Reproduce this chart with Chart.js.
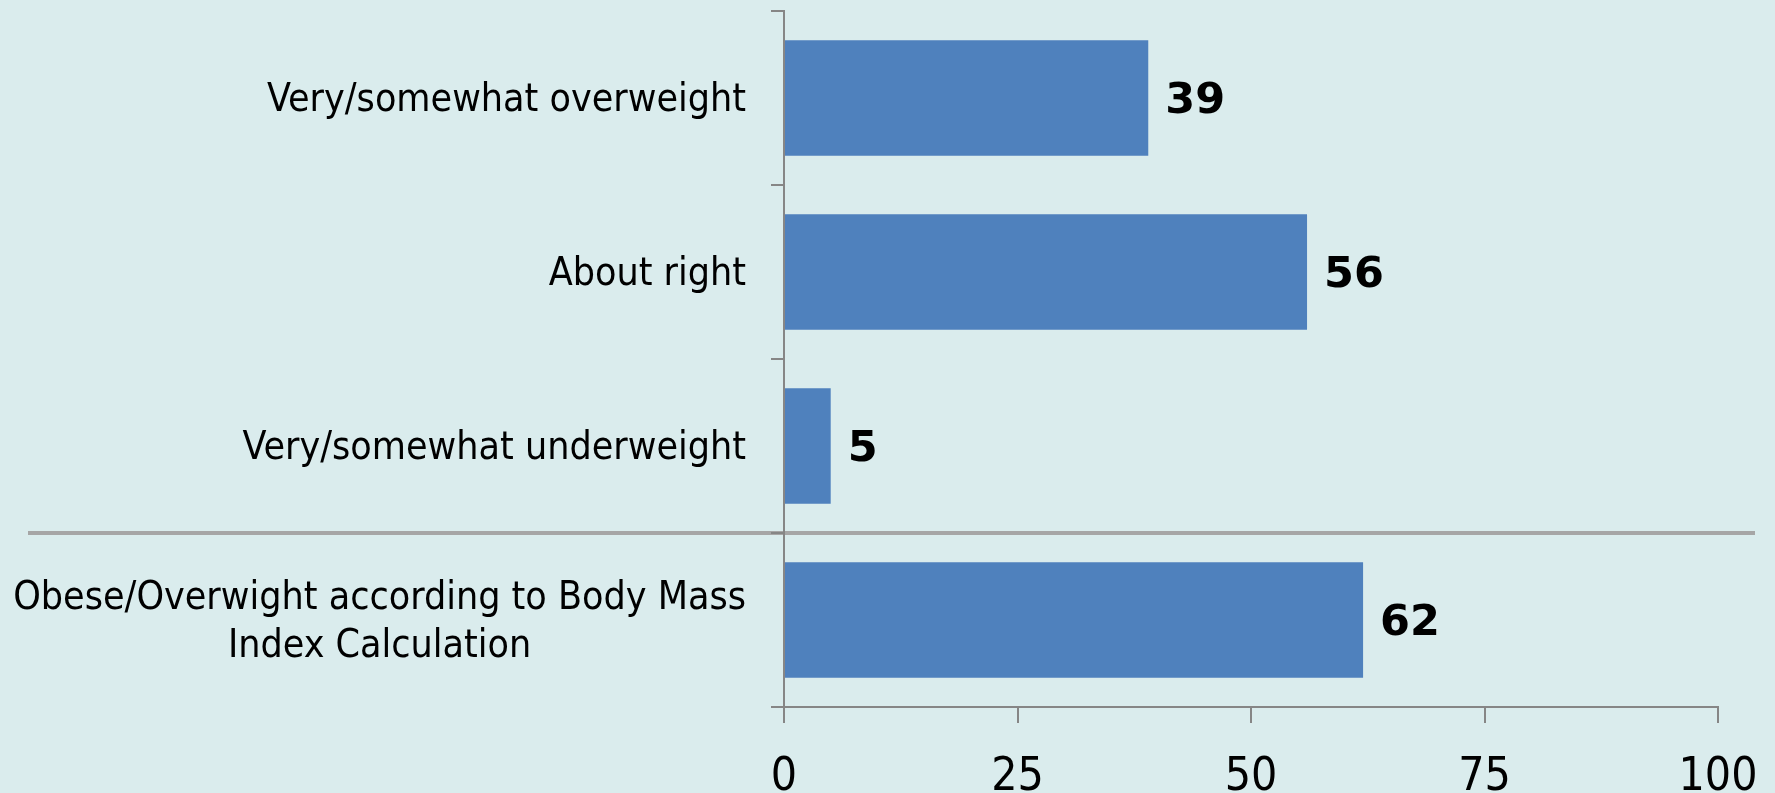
<!DOCTYPE html>
<html>
<head>
<meta charset="utf-8">
<script src="https://cdn.jsdelivr.net/npm/chart.js@4.4.1/dist/chart.umd.min.js"></script>
<style>
  html, body { margin: 0; padding: 0; background: #daeced; }
  #wrap { width: 1775px; height: 793px; position: relative; }
</style>
</head>
<body>
<div id="wrap"><canvas id="bmiChart"></canvas></div>
<script>
const categories = [
  "Very/somewhat overweight",
  "About right",
  "Very/somewhat underweight",
  ["Obese/Overwight according to Body Mass", "Index Calculation"]
];
const values = [39, 56, 5, 62];
const xTicks = [0, 25, 50, 75, 100];

const FONT = "'DejaVu Sans Condensed', 'DejaVu Sans', sans-serif";
const AXIS_GRAY = "#868686";

// etiquetas de categoria (centradas si tienen dos lineas)
const categoryLabels = {
  id: "categoryLabels",
  afterDraw(chart) {
    const ctx = chart.ctx;
    const y = chart.scales.y;
    const right = chart.chartArea.left - 38;
    ctx.save();
    ctx.font = "39px " + FONT;
    ctx.fillStyle = "#000";
    ctx.textBaseline = "middle";
    categories.forEach((lab, i) => {
      const lines = Array.isArray(lab) ? lab : [lab];
      const cy = y.getPixelForValue(i) + 3;
      const lh = 48;
      const maxW = Math.max(...lines.map(l => ctx.measureText(l).width));
      lines.forEach((l, k) => {
        const ly = cy + (k - (lines.length - 1) / 2) * lh;
        if (lines.length > 1) {
          ctx.textAlign = "center";
          ctx.fillText(l, right - maxW / 2, ly);
        } else {
          ctx.textAlign = "right";
          ctx.fillText(l, right, ly);
        }
      });
    });
    ctx.restore();
  }
};

// linea separadora entre la pregunta y el calculo IMC
const separator = {
  id: "separator",
  beforeDraw(chart) {
    const ctx = chart.ctx;
    const y = chart.scales.y;
    const sy = (y.getPixelForValue(2) + y.getPixelForValue(3)) / 2;
    ctx.save();
    ctx.strokeStyle = "#a6a6a6";
    ctx.lineWidth = 4;
    ctx.beginPath();
    ctx.moveTo(28, sy);
    ctx.lineTo(1755, sy);
    ctx.stroke();
    ctx.restore();
  }
};

const valueLabels = {
  id: "valueLabels",
  afterDatasetsDraw(chart) {
    const ctx = chart.ctx;
    const meta = chart.getDatasetMeta(0);
    ctx.save();
    ctx.font = "bold 43px 'DejaVu Sans', sans-serif";
    ctx.fillStyle = "#000";
    ctx.textAlign = "left";
    ctx.textBaseline = "middle";
    meta.data.forEach((bar, i) => {
      ctx.fillText(String(values[i]), bar.x + 17, bar.y + 4);
    });
    ctx.restore();
  }
};

new Chart(document.getElementById("bmiChart"), {
  type: "bar",
  data: {
    labels: categories.map(c => Array.isArray(c) ? c.join(" ") : c),
    datasets: [{
      data: values,
      backgroundColor: "#4f81bd",
      borderWidth: 0,
      barPercentage: 0.665,
      categoryPercentage: 1
    }]
  },
  options: {
    indexAxis: "y",
    responsive: true,
    maintainAspectRatio: false,
    animation: false,
    layout: { padding: { top: 11, right: 57, bottom: 0, left: 0 } },
    plugins: {
      legend: { display: false },
      tooltip: { enabled: false }
    },
    scales: {
      x: {
        min: 0,
        max: 100,
        afterBuildTicks(scale) {
          scale.ticks = xTicks.map(v => ({ value: v }));
        },
        afterFit(scale) {
          scale.height = 86;
          scale.paddingLeft = 0;
          scale.paddingRight = 0;
        },
        grid: {
          drawOnChartArea: false,
          drawTicks: true,
          tickLength: 16,
          color: AXIS_GRAY,
          lineWidth: 2
        },
        border: { color: AXIS_GRAY, width: 2 },
        ticks: {
          color: "#000",
          font: { family: FONT, size: 46 },
          padding: 27,
          maxRotation: 0
        }
      },
      y: {
        afterFit(scale) { scale.width = 784; },
        grid: {
          offset: true,
          drawOnChartArea: false,
          drawTicks: true,
          tickLength: 13,
          color: AXIS_GRAY,
          lineWidth: 2
        },
        border: { color: AXIS_GRAY, width: 2 },
        ticks: { display: false }
      }
    }
  },
  plugins: [separator, valueLabels, categoryLabels]
});
</script>
</body>
</html>
